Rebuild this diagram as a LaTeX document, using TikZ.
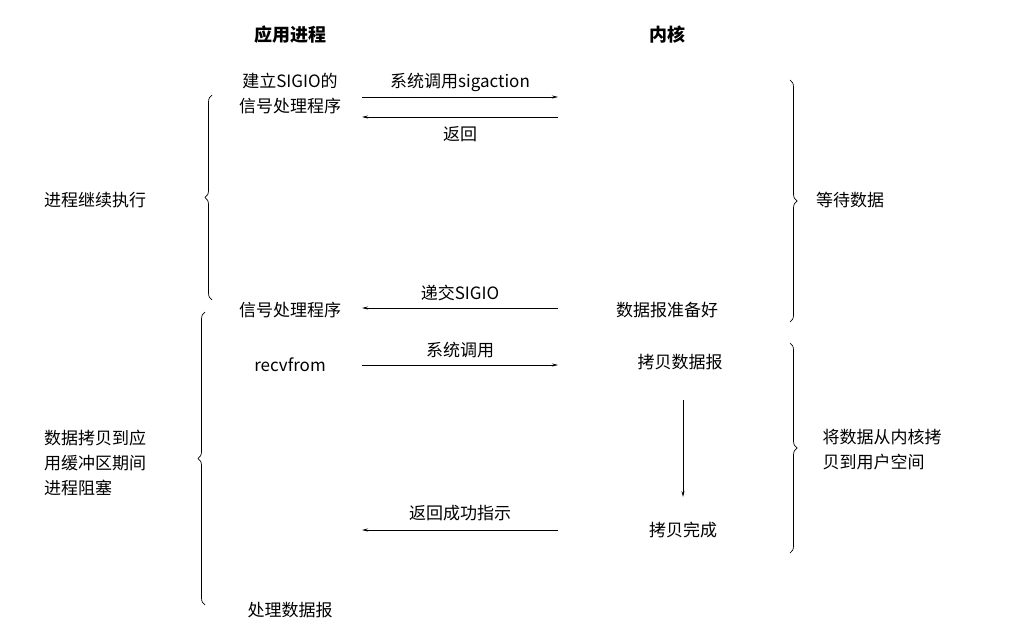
\documentclass[tikz,border=0pt]{standalone}
\usepackage{fontspec}
\setmainfont{Noto Sans CJK SC}
\usetikzlibrary{decorations.pathreplacing,arrows.meta}
\begin{document}
\begin{tikzpicture}[x=1pt,y=-1pt,
  lbl/.style={font=\fontsize{17}{25}\selectfont, align=center, inner sep=1pt},
  hd/.style={font=\fontsize{18}{22}\selectfont\bfseries},
  arr/.style={-{Stealth[length=6pt,width=3pt]}, line width=0.7pt},
  br/.style={decorate, decoration={brace, amplitude=7pt}, line width=0.7pt}]
\useasboundingbox (0,0) rectangle (1019,636);
\node[hd] (h1) at (290,35) {应用进程};
\node[hd] (h2) at (667,35) {内核};
\node[lbl] (a1) at (290,94) {建立SIGIO的\\信号处理程序};
\coordinate (s1) at (362,97); \coordinate (e1) at (558,97);
\draw[arr] (s1) -- node[lbl, above=4pt] {系统调用sigaction} (e1);
\coordinate (s2) at (558,117); \coordinate (e2) at (362,117);
\draw[arr] (s2) -- node[lbl, below=8pt] {返回} (e2);
\node[lbl] (l1) at (95,200) {进程继续执行};
\draw[br] (212,300) -- (212,95);
\node[lbl] (r1) at (850,200) {等待数据};
\draw[br] (790,80) -- (790,322);
\node[lbl] (a2) at (290,310) {信号处理程序};
\node[lbl] (k1) at (667,310) {数据报准备好};
\coordinate (s3) at (558,308); \coordinate (e3) at (362,308);
\draw[arr] (s3) -- node[lbl, above=6pt] {递交SIGIO} (e3);
\node[lbl] (a3) at (290,365) {recvfrom};
\node[lbl] (k2) at (680,362) {拷贝数据报};
\coordinate (s4) at (362,365); \coordinate (e4) at (558,365);
\draw[arr] (s4) -- node[lbl, above=6pt] {系统调用} (e4);
\node[lbl] (k3) at (683,530) {拷贝完成};
\draw[arr] (683,400) -- (683,497);
\coordinate (s5) at (558,530); \coordinate (e5) at (362,530);
\draw[arr] (s5) -- node[lbl, above=8pt] {返回成功指示} (e5);
\node[lbl, align=left] (l2) at (95,463) {数据拷贝到应\\用缓冲区期间\\进程阻塞};
\draw[br] (205,605) -- (205,312);
\node[lbl, align=left] (r2) at (882,450) {将数据从内核拷\\贝到用户空间};
\draw[br] (790,343) -- (790,553);
\node[lbl] (a4) at (290,610) {处理数据报};
\end{tikzpicture}
\end{document}
